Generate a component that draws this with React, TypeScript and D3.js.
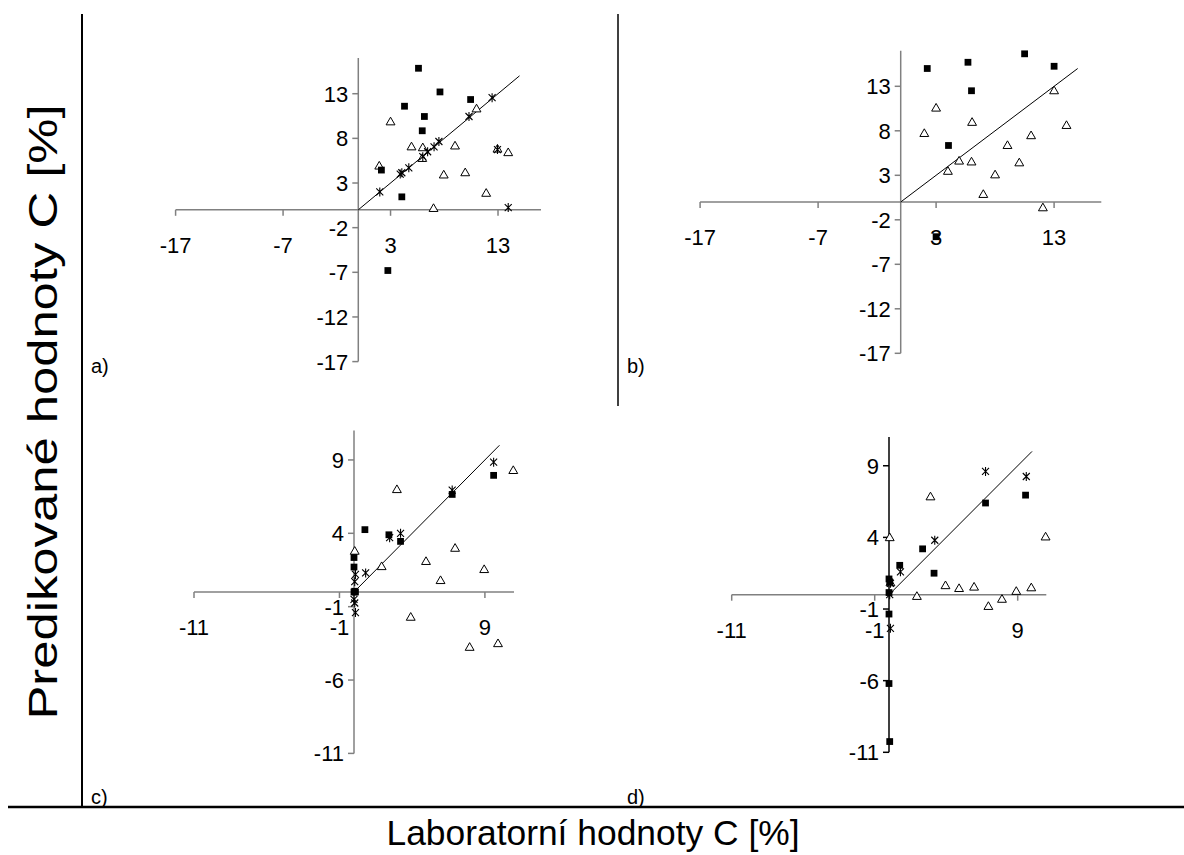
import React from "react";
import * as d3 from "d3";

type P = [number, number];

// Panel a
const aSquares: P[] = [[5.6,15.85],[7.6,13.2],[10.45,12.35],[4.3,11.6],[6.15,10.45],[5.95,8.85],[2.15,4.45],[4.05,1.45],[2.75,-6.8]];
const aTriangles: P[] = [[3.0,9.8],[11.0,11.25],[4.95,7.0],[6.0,6.9],[5.95,5.7],[9.0,7.1],[1.95,4.85],[7.95,3.85],[9.95,4.1],[11.9,1.8],[7.0,0.1],[13.95,6.35],[12.95,6.75]];
const aStars: P[] = [[2.0,2.0],[3.9,4.0],[4.05,4.15],[4.7,4.7],[6.0,5.95],[6.45,6.5],[7.05,7.05],[7.5,7.65],[10.3,10.45],[12.45,12.55],[12.95,6.75],[13.95,0.25]];

// Panel b
const bSquares: P[] = [[2.25,15.0],[5.7,15.7],[10.5,16.65],[13.0,15.25],[6.0,12.5],[4.05,6.35],[3.0,-3.9]];
const bTriangles: P[] = [[3.0,10.5],[2.0,7.65],[6.05,8.9],[13.0,12.45],[14.05,8.55],[11.05,7.4],[9.05,6.3],[4.95,4.55],[6.0,4.45],[10.05,4.35],[4.0,3.4],[8.0,3.0],[7.0,0.8],[12.05,-0.7]];
const bStars: P[] = [];

// Panel c
const cSquares: P[] = [[9.6,7.95],[6.75,6.65],[0.75,4.25],[2.4,3.9],[3.2,3.45],[0,2.35],[0,1.7],[0.05,0.05],[0,0],[0.1,0]];
const cTriangles: P[] = [[10.95,8.25],[2.95,6.95],[6.95,2.95],[4.95,2.05],[8.95,1.5],[1.9,1.7],[5.95,0.75],[0.05,2.75],[3.9,-1.75],[7.95,-3.8],[9.9,-3.55]];
const cStars: P[] = [[9.6,8.85],[6.75,6.95],[3.2,4.0],[2.45,3.7],[0.8,1.3],[0.1,1.2],[0.05,0.7],[0,-0.5],[0.05,-0.75],[0.1,-1.4]];

// Panel d
const dSquares: P[] = [[9.55,6.95],[6.75,6.4],[2.35,3.2],[0.75,2.05],[3.15,1.5],[0,1.1],[0.05,0.9],[0,0.15],[0,-1.35],[0,-6.2],[0.05,-10.25]];
const dTriangles: P[] = [[2.9,6.8],[0.05,3.95],[10.95,4.0],[1.95,-0.15],[3.95,0.6],[4.9,0.4],[5.95,0.5],[6.95,-0.85],[7.9,-0.35],[8.9,0.2],[9.95,0.45],[0.1,0.8]];
const dStars: P[] = [[6.75,8.6],[9.6,8.25],[3.2,3.8],[0.8,1.6],[0.1,0.8],[0.05,0],[0.1,-2.35]];

const bigXTicks = [-17, -7, 3, 13];
const bigYTicks = [13, 8, 3, -2, -7, -12, -17];
const smallXTicks = [-11, -1, 9];
const smallYTicks = [9, 4, -1, -6, -11];

const FONT = "'Liberation Sans', Arial, sans-serif";

interface PanelProps {
  lim: number;
  xRange: [number, number];
  yRange: [number, number];
  xTicks: number[];
  yTicks: number[];
  lineMax: number;
  squares: P[];
  triangles: P[];
  stars: P[];
  yAxisColor: string;
}

const triPath = d3.symbol(d3.symbolTriangle, 34)() as string;
const sqPath = d3.symbol(d3.symbolSquare, 46)() as string;
const starPath = "M-3.5,-3.5L3.5,3.5M-3.5,3.5L3.5,-3.5M0,-4.5L0,4.5";

function Panel(p: PanelProps) {
  const x = d3.scaleLinear().domain([-p.lim, p.lim]).range(p.xRange);
  const y = d3.scaleLinear().domain([-p.lim, p.lim]).range(p.yRange);
  const axisColor = "#808080";
  const line = d3.line<number>().x((v) => x(v)).y((v) => y(v));
  return (
    <g>
      {/* x axis */}
      <line x1={x(-p.lim)} x2={x(p.lim)} y1={y(0)} y2={y(0)} stroke={axisColor} strokeWidth={1.5} />
      {p.xTicks.map((t) => (
        <g key={"xt" + t}>
          <line x1={x(t)} x2={x(t)} y1={y(0)} y2={y(0) + 6} stroke={axisColor} strokeWidth={1.5} />
          <text x={x(t)} y={y(0) + 43} textAnchor="middle" fontSize={22} fontFamily={FONT}>{t}</text>
        </g>
      ))}
      {/* y axis */}
      <line x1={x(0)} x2={x(0)} y1={y(-p.lim)} y2={y(p.lim)} stroke={p.yAxisColor} strokeWidth={1.5} />
      {p.yTicks.map((t) => (
        <g key={"yt" + t}>
          <line x1={x(0) - 6} x2={x(0)} y1={y(t)} y2={y(t)} stroke={p.yAxisColor} strokeWidth={1.5} />
          <text x={x(0) - 10} y={y(t) + 8} textAnchor="end" fontSize={22} fontFamily={FONT}>{t}</text>
        </g>
      ))}
      {/* diagonal */}
      <path d={line([0, p.lineMax]) as string} stroke="#000" strokeWidth={1} fill="none" />
      {p.triangles.map((d, i) => (
        <path key={"t" + i} d={triPath} transform={`translate(${x(d[0])},${y(d[1])})`} fill="#fff" stroke="#000" strokeWidth={1} />
      ))}
      {p.stars.map((d, i) => (
        <path key={"s" + i} d={starPath} transform={`translate(${x(d[0])},${y(d[1])})`} fill="none" stroke="#000" strokeWidth={1.1} />
      ))}
      {p.squares.map((d, i) => (
        <path key={"q" + i} d={sqPath} transform={`translate(${x(d[0])},${y(d[1])})`} fill="#000" />
      ))}
    </g>
  );
}

export default function App() {
  return (
    <svg width={1184} height={855} style={{ position: "absolute", left: 0, top: 0, background: "#fff" }}>
      <rect x={0} y={0} width={1184} height={855} fill="#fff" />
      <Panel lim={17} xRange={[175.6, 541]} yRange={[361.6, 58]} xTicks={bigXTicks} yTicks={bigYTicks} lineMax={15}
        squares={aSquares} triangles={aTriangles} stars={aStars} yAxisColor="#808080" />
      <Panel lim={17} xRange={[700.1, 1101.3]} yRange={[353.3, 50.7]} xTicks={bigXTicks} yTicks={bigYTicks} lineMax={15}
        squares={bSquares} triangles={bTriangles} stars={bStars} yAxisColor="#808080" />
      <Panel lim={11} xRange={[194, 514]} yRange={[753.4, 430.6]} xTicks={smallXTicks} yTicks={smallYTicks} lineMax={10}
        squares={cSquares} triangles={cTriangles} stars={cStars} yAxisColor="#808080" />
      <Panel lim={11} xRange={[731.7, 1046.3]} yRange={[752.3, 437.1]} xTicks={smallXTicks} yTicks={smallYTicks} lineMax={10}
        squares={dSquares} triangles={dTriangles} stars={dStars} yAxisColor="#000" />

      {/* frame lines */}
      <line x1={82} x2={82} y1={14} y2={808} stroke="#000" strokeWidth={2} />
      <line x1={618} x2={618} y1={14} y2={406} stroke="#000" strokeWidth={1.5} />
      <line x1={8} x2={1184} y1={807} y2={807} stroke="#000" strokeWidth={2.5} />

      {/* panel labels */}
      <text x={91} y={373} fontSize={20} fontFamily={FONT}>a)</text>
      <text x={627} y={373} fontSize={20} fontFamily={FONT}>b)</text>
      <text x={91} y={804} fontSize={20} fontFamily={FONT}>c)</text>
      <text x={627} y={804} fontSize={20} fontFamily={FONT}>d)</text>

      {/* axis titles */}
      <text x={593} y={845} textAnchor="middle" fontSize={35} fontFamily={FONT} textLength={413} lengthAdjust="spacingAndGlyphs">Laboratorní hodnoty C [%]</text>
      <text transform="translate(57,412) rotate(-90)" textAnchor="middle" fontSize={40} fontFamily={FONT} textLength={615} lengthAdjust="spacingAndGlyphs">Predikované hodnoty C [%]</text>
    </svg>
  );
}
